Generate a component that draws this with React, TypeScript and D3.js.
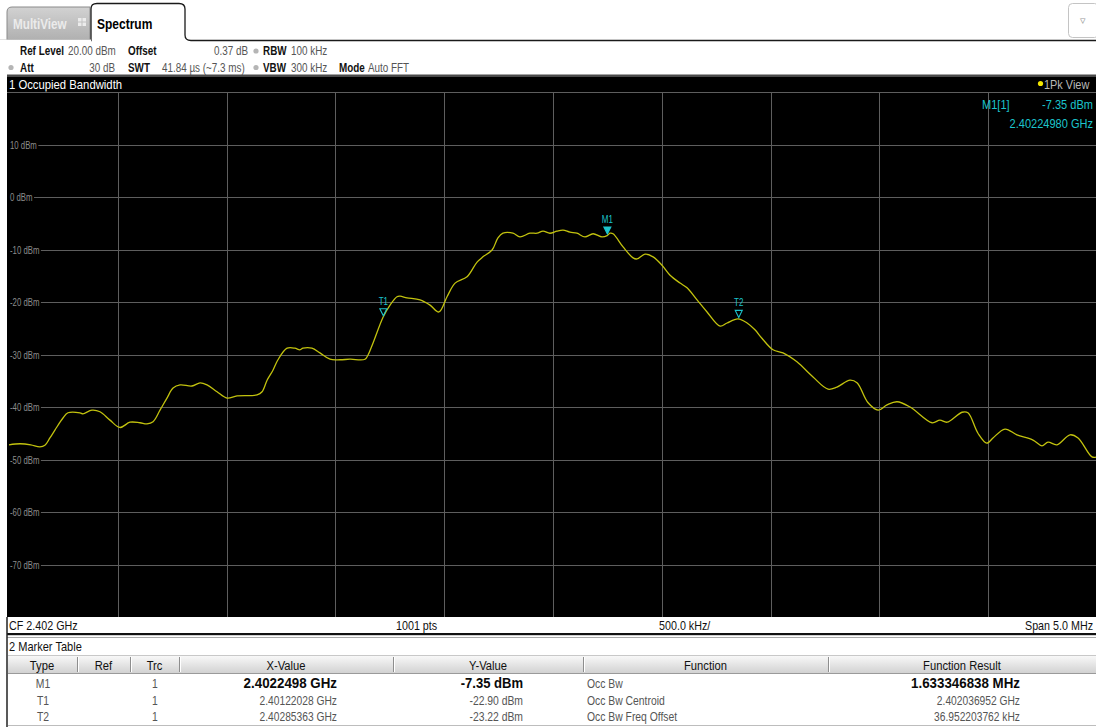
import React, { useEffect, useRef } from 'react';
import * as d3 from 'd3';

// trace 1 (1Pk View), frequency offset from CF in MHz and level in dBm
const TRACE_OFFSET_MHZ = [
  -2.5, -2.449, -2.4, -2.358, -2.335, -2.312, -2.289, -2.252, -2.229, -2.174,
  -2.16, -2.119, -2.082, -2.036, -1.99, -1.944, -1.898, -1.866, -1.838, -1.806,
  -1.774, -1.746, -1.714, -1.659, -1.622, -1.59, -1.544, -1.498, -1.452, -1.36,
  -1.337, -1.314, -1.287, -1.264, -1.222, -1.186, -1.163, -1.149, -1.108, -1.071,
  -1.025, -0.979, -0.933, -0.864, -0.85, -0.827, -0.781, -0.749, -0.717, -0.703,
  -0.671, -0.611, -0.565, -0.524, -0.487, -0.45, -0.395, -0.349, -0.322, -0.28,
  -0.253, -0.23, -0.184, -0.152, -0.106, -0.073, -0.046, -0.014, 0.018, 0.046,
  0.078, 0.11, 0.147, 0.184, 0.225, 0.249, 0.262, 0.276, 0.322, 0.368,
  0.386, 0.423, 0.46, 0.501, 0.538, 0.584, 0.616, 0.662, 0.708, 0.768,
  0.8, 0.85, 0.892, 0.928, 0.96, 1.011, 1.057, 1.121, 1.195, 1.264,
  1.305, 1.365, 1.397, 1.448, 1.494, 1.535, 1.581, 1.641, 1.742, 1.778,
  1.811, 1.88, 1.907, 1.953, 1.994, 2.022, 2.077, 2.132, 2.206, 2.247,
  2.275, 2.316, 2.376, 2.413, 2.477, 2.5,
];
const TRACE_LEVEL_DBM = [
  -47.2, -47.0, -47.2, -47.6, -47.3, -45.9, -44.4, -42.1, -41.1, -41.1,
  -41.3, -40.6, -40.9, -42.5, -43.9, -42.9, -43.0, -43.2, -42.8, -40.6,
  -38.3, -36.4, -35.8, -36.0, -35.4, -35.8, -37.1, -38.3, -37.9, -37.7,
  -37.1, -34.9, -33.0, -31.0, -28.8, -28.8, -29.1, -28.8, -28.8, -29.7,
  -30.9, -31.0, -30.9, -30.9, -30.1, -27.8, -22.9, -20.6, -19.0, -18.9,
  -19.2, -19.6, -20.6, -21.9, -19.0, -16.4, -15.2, -12.4, -11.4, -10.1,
  -7.8, -6.9, -6.9, -7.6, -6.9, -6.9, -6.5, -6.9, -6.5, -6.3,
  -6.7, -6.9, -7.6, -7.0, -7.6, -7.35, -6.9, -7.0, -9.5, -11.6,
  -11.8, -10.9, -11.4, -13.0, -14.9, -16.4, -17.3, -19.6, -21.9, -24.6,
  -24.0, -23.22, -24.0, -25.3, -26.9, -29.1, -29.7, -31.4, -34.3, -36.6,
  -36.2, -34.9, -35.4, -39.2, -40.6, -39.6, -39.0, -40.0, -43.0, -42.5,
  -42.9, -41.0, -41.1, -45.0, -46.9, -45.9, -44.2, -45.3, -46.3, -47.4,
  -46.7, -47.2, -45.3, -45.9, -49.5, -49.5,
];

const CF_GHZ = 2.402;
const SPAN_MHZ = 5;
const REF_LEVEL = 20;
const Y_MIN = -80;
const Y_TICKS = [10, 0, -10, -20, -30, -40, -50, -60, -70];

const MARKER_NAMES = ['M1', 'T1', 'T2'];
const MARKER_FREQ_GHZ = [2.4022498, 2.40122028, 2.40285363];
const MARKER_LEVEL_DBM = [-7.35, -22.9, -23.22];

const TABLE_HEADERS = ['Type', 'Ref', 'Trc', 'X-Value', 'Y-Value', 'Function', 'Function Result'];
const TABLE_TYPE = ['M1', 'T1', 'T2'];
const TABLE_TRC = ['1', '1', '1'];
const TABLE_X = ['2.4022498 GHz', '2.40122028 GHz', '2.40285363 GHz'];
const TABLE_Y = ['-7.35 dBm', '-22.90 dBm', '-23.22 dBm'];
const TABLE_FUNC = ['Occ Bw', 'Occ Bw Centroid', 'Occ Bw Freq Offset'];
const TABLE_RESULT = ['1.633346838 MHz', '2.402036952 GHz', '36.952203762 kHz'];

const FONT = "'Liberation Sans', Arial, sans-serif";
const CYAN = '#1cc4cc';
const TRACE_COLOR = '#c2c20e';
const GRID = '#5e5e5e';

type TextOpts = { size?: number; bold?: boolean; anchor?: string; fill?: string; sx?: number };

function txt(g: any, x: number, y: number, s: string, o: TextOpts = {}) {
  const { size = 12, bold = false, anchor = 'start', fill = '#111', sx = 0.86 } = o;
  return g.append('text')
    .attr('transform', `translate(${x},${y}) scale(${sx},1)`)
    .attr('text-anchor', anchor)
    .attr('fill', fill)
    .style('font-family', FONT)
    .style('font-size', `${size}px`)
    .style('font-weight', bold ? 'bold' : 'normal')
    .text(s);
}

const App: React.FC = () => {
  const svgRef = useRef<SVGSVGElement>(null);

  useEffect(() => {
    if (!svgRef.current) return;
    const width = 1096;
    const height = 727;
    const plot = { left: 7, right: 1096, top: 92, bottom: 617 };

    d3.select(svgRef.current).selectAll('*').remove();
    const svg = d3.select(svgRef.current).attr('width', width).attr('height', height);

    svg.append('rect').attr('width', width).attr('height', height).attr('fill', '#fff');

    const defs = svg.append('defs');
    const hdr = defs.append('linearGradient').attr('id', 'hdr-grad').attr('x1', 0).attr('y1', 0).attr('x2', 0).attr('y2', 1);
    hdr.append('stop').attr('offset', '0%').attr('stop-color', '#fafafa');
    hdr.append('stop').attr('offset', '100%').attr('stop-color', '#d2d2d2');
    const tab = defs.append('linearGradient').attr('id', 'tab-grad').attr('x1', 0).attr('y1', 0).attr('x2', 0).attr('y2', 1);
    tab.append('stop').attr('offset', '0%').attr('stop-color', '#d2d2d2');
    tab.append('stop').attr('offset', '100%').attr('stop-color', '#b0b0b0');

    // ---- tabs
    svg.append('path')
      .attr('d', 'M7,40 V12 Q7,7 12,7 H90 V40 Z')
      .attr('fill', 'url(#tab-grad)').attr('stroke', '#8a8a8a');
    txt(svg, 13, 28.5, 'MultiView', { size: 15, bold: true, fill: '#ebebeb', sx: 0.78 });
    [[78, 18], [82.5, 18], [78, 22.5], [82.5, 22.5]].forEach(([x, y]) => {
      svg.append('rect').attr('x', x).attr('y', y).attr('width', 3.5).attr('height', 3.5).attr('fill', '#ececec');
    });
    svg.append('path')
      .attr('d', 'M0,40.5 H91 V9 Q91,3.5 97,3.5 H179 Q185,3.5 185,9 V35 Q185,40.5 191,40.5 H1096')
      .attr('fill', '#fff').attr('stroke', '#1a1a1a').attr('stroke-width', 1.3);
    svg.append('rect').attr('x', 0).attr('y', 39.5).attr('width', 91).attr('height', 3).attr('fill', '#fff');
    txt(svg, 97, 28.5, 'Spectrum', { size: 15, bold: true, fill: '#000', sx: 0.8 });
    svg.append('rect').attr('x', 1068.5).attr('y', 3.5).attr('width', 30).attr('height', 34).attr('rx', 4)
      .attr('fill', '#fff').attr('stroke', '#c4c4c4');
    txt(svg, 1083, 24, '▿', { size: 11, fill: '#999', anchor: 'middle', sx: 1 });

    // ---- settings rows
    const dot = (x: number, y: number) => svg.append('circle').attr('cx', x).attr('cy', y).attr('r', 2.6).attr('fill', '#b5b5b5');
    const hs = 0.76;
    const hz = 13;
    txt(svg, 20, 55, 'Ref Level', { size: hz, bold: true, sx: hs });
    txt(svg, 68, 55, '20.00 dBm', { size: hz, fill: '#555', sx: hs });
    txt(svg, 128, 55, 'Offset', { size: hz, bold: true, sx: hs });
    txt(svg, 248, 55, '0.37 dB', { size: hz, fill: '#555', anchor: 'end', sx: hs });
    dot(256, 51);
    txt(svg, 263, 55, 'RBW', { size: hz, bold: true, sx: hs });
    txt(svg, 291, 55, '100 kHz', { size: hz, fill: '#555', sx: hs });
    dot(11, 67.5);
    txt(svg, 20, 71.5, 'Att', { size: hz, bold: true, sx: hs });
    txt(svg, 115, 71.5, '30 dB', { size: hz, fill: '#555', anchor: 'end', sx: hs });
    txt(svg, 128, 71.5, 'SWT', { size: hz, bold: true, sx: hs });
    txt(svg, 162, 71.5, '41.84 µs (~7.3 ms)', { size: hz, fill: '#555', sx: hs });
    dot(256, 67.5);
    txt(svg, 263, 71.5, 'VBW', { size: hz, bold: true, sx: hs });
    txt(svg, 291, 71.5, '300 kHz', { size: hz, fill: '#555', sx: hs });
    txt(svg, 339, 71.5, 'Mode', { size: hz, bold: true, sx: hs });
    txt(svg, 368, 71.5, 'Auto FFT', { size: hz, fill: '#555', sx: hs });

    // ---- window title bar
    svg.append('rect').attr('x', plot.left).attr('y', 74.5).attr('width', plot.right - plot.left).attr('height', 2.5).attr('fill', '#4a4a4a');
    svg.append('rect').attr('x', plot.left).attr('y', 77).attr('width', plot.right - plot.left).attr('height', 15).attr('fill', '#000');
    txt(svg, 9, 89, '1 Occupied Bandwidth', { size: 13, fill: '#fff', sx: 0.87 });
    svg.append('circle').attr('cx', 1040.5).attr('cy', 83.5).attr('r', 2.6).attr('fill', '#f2e600');
    txt(svg, 1044, 89, '1Pk View', { size: 13, fill: '#b8b8b8', sx: 0.84 });

    // ---- diagram
    const x = d3.scaleLinear()
      .domain([CF_GHZ - SPAN_MHZ / 2000, CF_GHZ + SPAN_MHZ / 2000])
      .range([9, 1097]);
    const y = d3.scaleLinear().domain([Y_MIN, REF_LEVEL]).range([plot.bottom, plot.top]);

    svg.append('rect').attr('x', plot.left).attr('y', plot.top - 0.5)
      .attr('width', plot.right - plot.left).attr('height', plot.bottom - plot.top + 0.5).attr('fill', '#000');

    const grid = svg.append('g');
    const xTicks = d3.range(1, 10).map(i => CF_GHZ + (i - 5) * SPAN_MHZ / 10000);
    xTicks.forEach(f => {
      const px = Math.round(x(f)) + 0.5;
      grid.append('line').attr('x1', px).attr('x2', px).attr('y1', plot.top).attr('y2', plot.bottom)
        .attr('stroke', GRID).attr('stroke-width', 1);
    });
    grid.append('line').attr('x1', plot.left).attr('x2', plot.right)
      .attr('y1', Math.round(y(REF_LEVEL)) + 0.5).attr('y2', Math.round(y(REF_LEVEL)) + 0.5).attr('stroke', GRID);

    Y_TICKS.forEach(v => {
      const py = Math.round(y(v)) + 0.5;
      const lbl = txt(grid, 10, py + 3.3, `${v} dBm`, { size: 10, fill: '#8c8c8c', sx: 0.78 });
      const w = (lbl.node() as SVGTextElement).getComputedTextLength() * 0.78;
      grid.append('line').attr('x1', 10 + w + 1.5).attr('x2', plot.right).attr('y1', py).attr('y2', py)
        .attr('stroke', GRID).attr('stroke-width', 1);
    });

    const pts: [number, number][] = TRACE_OFFSET_MHZ.map((o, i) => [CF_GHZ + o / 1000, TRACE_LEVEL_DBM[i]]);
    const line = d3.line<[number, number]>()
      .x(d => x(d[0]))
      .y(d => y(d[1]))
      .curve(d3.curveCatmullRom.alpha(0.5));
    svg.append('path').attr('d', line(pts) as string)
      .attr('fill', 'none').attr('stroke', TRACE_COLOR).attr('stroke-width', 1.3);

    // markers
    MARKER_NAMES.forEach((name, i) => {
      const mx = x(MARKER_FREQ_GHZ[i]);
      const my = y(MARKER_LEVEL_DBM[i]) - 1.5;
      const filled = name.startsWith('M');
      svg.append('path')
        .attr('d', `M${mx - 3.5},${my - 7} L${mx + 3.5},${my - 7} L${mx},${my} Z`)
        .attr('fill', filled ? CYAN : 'none')
        .attr('stroke', CYAN).attr('stroke-width', 1.1);
      txt(svg, mx, my - 11, name, { size: 10, fill: CYAN, anchor: 'middle', sx: 0.8 });
    });

    // marker info
    txt(svg, 982, 108.5, `${MARKER_NAMES[0]}[1]`, { size: 13, fill: CYAN, sx: 0.85 });
    txt(svg, 1093, 108.5, `${MARKER_LEVEL_DBM[0].toFixed(2)} dBm`, { size: 13, fill: CYAN, anchor: 'end', sx: 0.85 });
    txt(svg, 1093, 128, `${MARKER_FREQ_GHZ[0].toFixed(8)} GHz`, { size: 13, fill: CYAN, anchor: 'end', sx: 0.85 });

    // ---- footer of diagram
    svg.append('rect').attr('x', plot.left).attr('y', 633).attr('width', plot.right - plot.left).attr('height', 2.2).attr('fill', '#111');
    svg.append('line').attr('x1', plot.left).attr('x2', plot.right).attr('y1', 637.5).attr('y2', 637.5).attr('stroke', '#aaa');
    txt(svg, 9, 630, `CF ${CF_GHZ} GHz`, { size: 12.5, sx: 0.86 });
    txt(svg, 396, 630, '1001 pts', { size: 12.5, sx: 0.86 });
    txt(svg, 659, 630, `${(SPAN_MHZ * 100).toFixed(1)} kHz/`, { size: 12.5, sx: 0.86 });
    txt(svg, 1093, 630, `Span ${SPAN_MHZ.toFixed(1)} MHz`, { size: 12.5, anchor: 'end', sx: 0.86 });

    // ---- marker table
    txt(svg, 9, 651, '2 Marker Table', { size: 13, sx: 0.85 });
    const colEdges = [7, 77, 130, 179, 393, 583, 828, 1096];
    svg.append('rect').attr('x', 8).attr('y', 655).attr('width', 1088).attr('height', 18).attr('fill', 'url(#hdr-grad)');
    svg.append('line').attr('x1', 8).attr('x2', 1096).attr('y1', 655.5).attr('y2', 655.5).attr('stroke', '#c8c8c8');
    svg.append('line').attr('x1', 8).attr('x2', 1096).attr('y1', 673.5).attr('y2', 673.5).attr('stroke', '#9a9a9a');
    colEdges.slice(1, -1).forEach(cx => {
      svg.append('line').attr('x1', cx + 0.5).attr('x2', cx + 0.5).attr('y1', 657).attr('y2', 672).attr('stroke', '#8e8e8e');
      svg.append('line').attr('x1', cx + 1.5).attr('x2', cx + 1.5).attr('y1', 657).attr('y2', 672).attr('stroke', '#fff');
    });
    TABLE_HEADERS.forEach((h, i) => {
      txt(svg, (colEdges[i] + colEdges[i + 1]) / 2, 669.5, h, { size: 13.5, anchor: 'middle', sx: 0.83 });
    });
    const rowY = [688, 704.5, 720.5];
    TABLE_TYPE.forEach((t, r) => {
      const bold = r === 0;
      const c = bold ? '#0a0a0a' : '#555';
      txt(svg, 43, rowY[r], t, { size: 12.5, anchor: 'middle', fill: '#555', sx: 0.83 });
      txt(svg, 155, rowY[r], TABLE_TRC[r], { size: 12.5, anchor: 'middle', fill: '#555', sx: 0.83 });
      txt(svg, 337, rowY[r], TABLE_X[r], bold ? { size: 14.5, bold: true, anchor: 'end', fill: c, sx: 0.92 } : { size: 12.5, anchor: 'end', fill: c, sx: 0.82 });
      txt(svg, 523, rowY[r], TABLE_Y[r], bold ? { size: 14.5, bold: true, anchor: 'end', fill: c, sx: 0.9 } : { size: 12.5, anchor: 'end', fill: c, sx: 0.83 });
      txt(svg, 587, rowY[r], TABLE_FUNC[r], { size: 12.5, fill: '#555', sx: 0.83 });
      txt(svg, 1020, rowY[r], TABLE_RESULT[r], bold ? { size: 14.5, bold: true, anchor: 'end', fill: c, sx: 0.92 } : { size: 12.5, anchor: 'end', fill: c, sx: 0.82 });
    });
    svg.append('line').attr('x1', 8).attr('x2', 1096).attr('y1', 725.5).attr('y2', 725.5).attr('stroke', '#bdbdbd');

    // window left border
    svg.append('line').attr('x1', 7).attr('x2', 7).attr('y1', 617).attr('y2', 727).attr('stroke', '#222').attr('stroke-width', 1.5);
  }, []);

  return (
    <div style={{ position: 'absolute', left: 0, top: 0 }}>
      <svg ref={svgRef} style={{ display: 'block' }}></svg>
    </div>
  );
};

export default App;
